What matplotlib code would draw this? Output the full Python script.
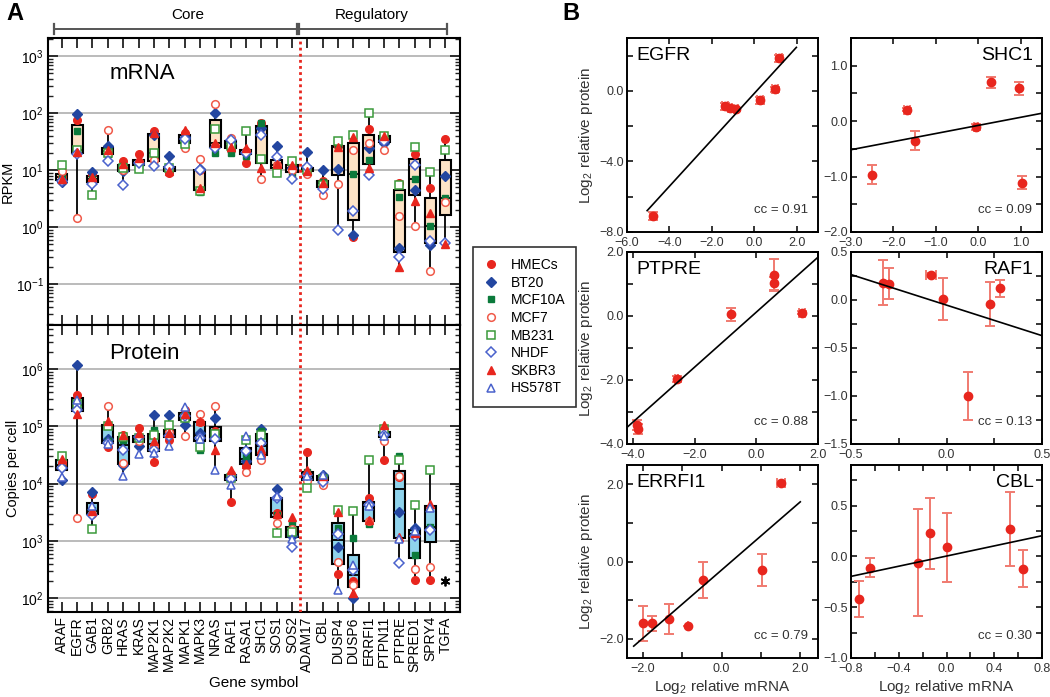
import numpy as np
import matplotlib
matplotlib.use("Agg")
import matplotlib.pyplot as plt
import matplotlib.ticker as mticker
import matplotlib.transforms as mtransforms
from matplotlib.lines import Line2D

plt.rcParams['font.family'] = ['Liberation Sans', 'DejaVu Sans']
plt.rcParams['mathtext.fontset'] = 'custom'
plt.rcParams['mathtext.rm'] = 'Liberation Sans'
plt.rcParams['mathtext.it'] = 'Liberation Sans:italic'
plt.rcParams['mathtext.bf'] = 'Liberation Sans:bold'

nan = np.nan

# ---------------- panel A data ----------------
genes = ['ARAF', 'EGFR', 'GAB1', 'GRB2', 'HRAS', 'KRAS', 'MAP2K1', 'MAP2K2', 'MAPK1',
         'MAPK3', 'NRAS', 'RAF1', 'RASA1', 'SHC1', 'SOS1', 'SOS2', 'ADAM17', 'CBL',
         'DUSP4', 'DUSP6', 'ERRFI1', 'PTPN11', 'PTPRE', 'SPRED1', 'SPRY4', 'TGFA']
n_core = 16

cell_lines = ['HMECs', 'BT20', 'MCF10A', 'MCF7', 'MB231', 'NHDF', 'SKBR3', 'HS578T']

# mRNA (RPKM), one list per cell line, gene order as above
mrna_hmec = [7.5, 75, 8.5, 22, 14.5, 19, 48, 9, 45, 10, 26, 23, 13.5, 66, 12.5, 12,
             10, 6.5, 26, 0.68, 53, 35, 6.0, 19, 4.8, 34.5]
mrna_bt20 = [6.2, 96, 9.2, 26, 9.5, 13, 42, 18, 38, 10.5, 101, 30, 20, 54, 27, 11,
             21, 10, 10.3, 0.74, 24, 30, 0.43, 4.5, 0.48, 7.85]
mrna_mcf10a = [7.8, 48, 7, 19, 12, 12, 14, 10, 30, 4.2, 20, 20, 18, 68, 10, 8.5,
               10.5, 6.2, 28, 8.5, 15, 38, 3.4, 7.1, 1.04, 3.3]
mrna_mcf7 = [9.5, 1.44, 6.5, 51, 10, 14, 15, 10.5, 24.5, 15.5, 144, 37, 22, 7.1, 12, 10,
             8.5, 3.7, 5.8, 23, 30, 22.5, 1.56, 1.05, 0.17, 2.7]
mrna_mb231 = [12.3, 22.5, 3.6, 20, 11, 10.4, 20, 11, 29, 4.3, 52, 27, 48, 15.4, 8.8, 14.5,
              10, 5.5, 33, 41, 100, 40, 5.5, 25.8, 9.3, 22.4]
mrna_nhdf = [6.5, 19, 5.7, 14.7, 5.5, 13.5, 12, 11.5, 35, 10, 24, 34, 20, 41, 17, 6.9,
             11.4, 4.7, 0.89, 1.9, 8.2, 33, 0.3, 12.2, 0.58, 0.52]
mrna_skbr3 = [7.0, 21, 7.5, 23, 13, 16, 44, 9.5, 50, 4.8, 30, 25, 24, 11, 13, 12.5,
              9.5, 6, 25, 38, 11, 40, 0.2, 2.9, 1.8, 0.5]
mrna_hs578t = [nan] * 26

# protein (copies per cell)
prot_hmec = [22e3, 360e3, 6.7e3, 44e3, 70e3, 93e3, 23.5e3, 57e3, 190e3, 118e3, 82e3, 4.7e3,
             20e3, 30e3, 3.1e3, 1.6e3, 36e3, 13e3, 263, 200, 5.6e3, 25.6e3, 13e3, 210, 210, nan]
prot_bt20 = [11.7e3, 1.2e6, 7.2e3, 60e3, 21e3, 45e3, 160e3, 160e3, 107e3, 76e3, 140e3, 14e3,
             25e3, 90e3, 8.2e3, 1.22e3, 12e3, 14e3, 790, 100, 4.5e3, 75e3, 3.2e3, 1.67e3, nan, nan]
prot_mcf10a = [20e3, 232e3, 3.5e3, 55e3, 58e3, 60e3, 85e3, 75e3, 155e3, 39e3, 70e3, 13e3,
               30e3, 82e3, 2.8e3, 2.1e3, 16e3, 12.5e3, 1.66e3, 1.11e3, 2.0e3, 72e3, 31e3, 570, 1.78e3, nan]
prot_mcf7 = [25e3, 2.5e3, 3.0e3, 224e3, 23e3, 55e3, 45e3, 80e3, 67e3, 166e3, 229e3, 15e3,
             15.7e3, 26e3, 2.1e3, 1.6e3, 11e3, 9.3e3, 435, 170, 2.2e3, 55e3, 13.5e3, 330, 346, nan]
prot_mb231 = [31e3, 250e3, 1.6e3, 100e3, 65e3, 62e3, 70e3, 105e3, 140e3, 44e3, 75e3, 12.5e3,
              59e3, 70e3, 1.37e3, 1.45e3, 8.4e3, 12e3, 3.5e3, 3.4e3, 26e3, 90e3, 26e3, 4.3e3, 17e3, nan]
prot_nhdf = [19e3, 190e3, 2.8e3, 52e3, 38e3, 64e3, 38e3, 67e3, 150e3, 63e3, 60e3, 12e3,
             37e3, 51e3, 5.6e3, 790, 14e3, 10.5e3, 1.3e3, 310, 4.3e3, 70e3, 420, 1.2e3, 1.55e3, nan]
prot_skbr3 = [27e3, 166e3, 3.3e3, 126e3, 72e3, 78e3, 55e3, 77e3, 165e3, 122e3, 39e3, 17e3,
              22.5e3, 40e3, 3.0e3, 2.6e3, 17e3, 13.5e3, 3.2e3, 125, 2.3e3, 107e3, 1.15e3, 1.4e3, 4.45e3, nan]
prot_hs578t = [13e3, 290e3, 4.0e3, 50e3, 13.5e3, 33e3, 35e3, 46e3, 214e3, 60e3, 17e3, 9.5e3,
               69e3, 32e3, 6.0e3, 1.1e3, 13.5e3, 14e3, 138, 380, 4.0e3, 68e3, 1.1e3, 1.5e3, 3.7e3, nan]
tgfa_undetected = 200  # marked with an asterisk

mrna = [mrna_hmec, mrna_bt20, mrna_mcf10a, mrna_mcf7, mrna_mb231, mrna_nhdf, mrna_skbr3, mrna_hs578t]
prot = [prot_hmec, prot_bt20, prot_mcf10a, prot_mcf7, prot_mb231, prot_nhdf, prot_skbr3, prot_hs578t]

# ---------------- panel B data ----------------
egfr_x = [1.16, 0.98, 0.27, -1.38, -1.16, -0.87, -4.76]
egfr_y = [1.85, 0.08, -0.53, -0.87, -0.95, -1.05, -7.09]
egfr_yerr = [0.2, 0.15, 0.2, 0.2, 0.15, 0.1, 0.25]
egfr_xerr = [0.15, 0.15, 0.15, 0.15, 0.1, 0.1, 0.15]

shc1_x = [-2.51, -1.68, -1.5, -0.05, 0.3, 0.96, 1.04]
shc1_y = [-0.97, 0.21, -0.35, -0.11, 0.70, 0.59, -1.11]
shc1_yerr = [0.17, 0.03, 0.17, 0.05, 0.1, 0.12, 0.12]
shc1_xerr = [0, 0.08, 0, 0.05, 0, 0, 0]

ptpre_x = [-3.88, -3.85, -2.59, -0.81, 0.56, 0.56, 1.48]
ptpre_y = [-3.41, -3.53, -1.97, 0.05, 1.28, 1.02, 0.1]
ptpre_yerr = [0.15, 0.15, 0.1, 0.2, 0.5, 0.2, 0.05]
ptpre_xerr = [0.05, 0.05, 0.05, 0, 0, 0, 0.1]

raf1_x = [-0.334, -0.30, -0.08, -0.02, 0.11, 0.23, 0.28]
raf1_y = [0.18, 0.17, 0.26, 0.01, -1.0, -0.04, 0.12]
raf1_yerr = [0.235, 0.16, 0.02, 0.22, 0.25, 0.23, 0.09]
raf1_xerr = [0, 0, 0.025, 0, 0, 0, 0]

errfi1_x = [-2.0, -1.77, -1.34, -0.85, -0.47, 1.02, 1.5]
errfi1_y = [-1.6, -1.6, -1.49, -1.66, -0.48, -0.22, 2.04]
errfi1_yerr = [0.45, 0.2, 0.39, 0.0, 0.46, 0.42, 0.05]
errfi1_xerr = [0, 0, 0, 0, 0, 0, 0.1]

cbl_x = [-0.73, -0.64, -0.24, -0.14, 0.0, 0.53, 0.64]
cbl_y = [-0.42, -0.11, -0.06, 0.23, 0.09, 0.27, -0.12]
cbl_yerr = [0.18, 0.095, 0.53, 0.35, 0.34, 0.36, 0.18]
cbl_xerr = [0, 0, 0, 0, 0, 0, 0]

# ---------------- style ----------------
RED = '#e8261e'
BLUE = '#2346a0'
GREEN = '#0b7a3b'
LBLUE = '#4a62cc'
OGREEN = '#3a9a3a'
marker_styles = [
    dict(marker='o', mfc=RED, mec=RED, ms=5.5),
    dict(marker='D', mfc=BLUE, mec=BLUE, ms=5),
    dict(marker='s', mfc=GREEN, mec=GREEN, ms=5),
    dict(marker='o', mfc='white', mec='#f05a4a', ms=5.5, mew=1.1),
    dict(marker='s', mfc='white', mec=OGREEN, ms=5.5, mew=1.1),
    dict(marker='D', mfc='white', mec=LBLUE, ms=5, mew=1.1),
    dict(marker='^', mfc=RED, mec=RED, ms=6),
    dict(marker='^', mfc='white', mec=LBLUE, ms=6, mew=1.1),
]

W, H = 1050, 697
fig = plt.figure(figsize=(W / 100, H / 100), dpi=100)


def fbox(l, t, r, b):
    return [l / W, 1 - b / H, (r - l) / W, (b - t) / H]


ax_m = fig.add_axes(fbox(48, 38, 460, 325))
ax_p = fig.add_axes(fbox(48, 325, 460, 612))
pos = np.arange(len(genes))


def draw_box_panel(ax, series, box_color, ylim):
    groups = []
    for i in range(len(genes)):
        groups.append([s[i] for s in series if not np.isnan(s[i])])
    idx = [i for i, g in enumerate(groups) if len(g) > 0]
    ax.boxplot([groups[i] for i in idx], positions=idx, widths=0.72, whis=(0, 100),
               patch_artist=True, showfliers=False, showcaps=False, manage_ticks=False,
               medianprops=dict(color='black', lw=1.3),
               boxprops=dict(facecolor=box_color, edgecolor='black', lw=1.5),
               whiskerprops=dict(color='black', lw=1.3), zorder=2)
    for s, st in zip(series, marker_styles):
        ax.plot(pos, s, ls='none', zorder=3, **st)
    ax.set_yscale('log')
    ax.set_ylim(*ylim)
    ax.set_xlim(-0.9, 25.95)
    ax.set_xticks(pos)
    ax.yaxis.grid(True, which='major', color='#a8a8a8', lw=1.1)
    ax.set_axisbelow(True)
    ax.axvline(n_core - 0.5, color=RED, ls=(0, (1, 1.2)), lw=2, zorder=4)
    ax.yaxis.set_major_locator(mticker.LogLocator(base=10, numticks=20))
    ax.yaxis.set_minor_locator(mticker.LogLocator(base=10, subs=np.arange(2, 10), numticks=20))
    ax.yaxis.set_minor_formatter(mticker.NullFormatter())
    ax.tick_params(axis='both', which='both', direction='in', top=True, right=True,
                   labelsize=10, width=1.3, color='#222222', pad=3)
    ax.tick_params(axis='y', which='major', length=7)
    ax.tick_params(axis='y', which='minor', length=3.5, width=1)
    ax.tick_params(axis='x', which='major', length=7)
    for sp in ax.spines.values():
        sp.set_linewidth(1.5)


draw_box_panel(ax_m, mrna, '#fde3c6', (10 ** -1.72, 10 ** 3.32))
draw_box_panel(ax_p, prot, '#8fd3ec', (10 ** 1.76, 10 ** 6.77))
ax_p.plot([pos[-1]], [tgfa_undetected], ls='none', marker=(6, 2, 0), color='black', ms=7, mew=1.3)

ax_m.set_xticklabels([])
ax_p.set_xticklabels(genes, rotation=90, fontsize=10)
ax_m.set_ylabel('RPKM', fontsize=10.5, labelpad=1)
ax_p.set_ylabel('Copies per cell', fontsize=10.5, labelpad=1)
ax_p.set_xlabel('Gene symbol', fontsize=11, labelpad=3)
ax_m.text(0.23, 0.875, 'mRNA', transform=ax_m.transAxes, ha='center', va='center', fontsize=16)
ax_p.text(0.235, 0.9, 'Protein', transform=ax_p.transAxes, ha='center', va='center', fontsize=16)

# Core / Regulatory brackets
tr = mtransforms.blended_transform_factory(ax_m.transData, fig.transFigure)
yb = 1 - 29 / H
cap = 5 / H
for x0, x1, label, xt in [(-0.52, 15.35, 'Core', 8.2), (15.47, 25.1, 'Regulatory', 20.2)]:
    ax_m.plot([x0, x1], [yb, yb], color='#555555', lw=1.4, transform=tr, clip_on=False)
    for xe in (x0, x1):
        ax_m.plot([xe, xe], [yb - cap, yb + cap], color='#555555', lw=1.6, transform=tr, clip_on=False)
    ax_m.text(xt, 1 - 15 / H, label, transform=tr, ha='center', va='center', fontsize=11)

# legend
handles = [Line2D([], [], ls='none', **st) for st in marker_styles]
leg = fig.legend(handles, cell_lines, loc='upper left', bbox_to_anchor=(473 / W, 1 - 247 / H),
                 frameon=True, fancybox=False, edgecolor='black', fontsize=10,
                 labelspacing=0.26, handlelength=1.0, handletextpad=0.9, borderpad=0.8,
                 borderaxespad=0)
leg.get_frame().set_linewidth(1.2)

fig.text(6 / W, 1 - 14 / H, 'A', fontsize=17, fontweight='bold', va='center')
fig.text(562 / W, 1 - 14 / H, 'B', fontsize=17, fontweight='bold', va='center')


# ---------------- panel B ----------------
def fmt_every(step):
    def f(v, p):
        k = v / step
        if abs(k - round(k)) > 1e-6:
            return ''
        s = f'{v:.1f}'
        if s in ('-0.0',):
            s = '0.0'
        return s.replace('-', '\u2212')
    return mticker.FuncFormatter(f)


def scatter_panel(rect, name, xs, ys, xerr, yerr, cc, xlim, ylim, xstep, xlab, ystep, ylab,
                  fit_range, title_right, xlabel=False, ylabel=False):
    ax = fig.add_axes(rect)
    ax.errorbar(xs, ys, yerr=yerr, xerr=xerr, fmt='o', color=RED, ms=6, ecolor='#f07a70',
                elinewidth=1.4, capsize=3.5, capthick=1.4, zorder=3)
    k, b = np.polyfit(xs, ys, 1)
    fx = np.array(fit_range)
    ax.plot(fx, k * fx + b, color='black', lw=1.2, zorder=4)
    ax.set_xlim(*xlim)
    ax.set_ylim(*ylim)
    ax.xaxis.set_major_locator(mticker.MultipleLocator(xstep))
    ax.yaxis.set_major_locator(mticker.MultipleLocator(ystep))
    ax.xaxis.set_major_formatter(fmt_every(xlab))
    ax.yaxis.set_major_formatter(fmt_every(ylab))
    ax.tick_params(direction='in', top=True, right=True, length=4, width=1.1,
                   labelsize=9, labelcolor='#333333', pad=2.5)
    ax.tick_params(axis='x', pad=3.5)
    for sp in ax.spines.values():
        sp.set_linewidth(1.4)
    if title_right:
        ax.text(0.955, 0.91, name, transform=ax.transAxes, ha='right', va='center', fontsize=14)
    else:
        ax.text(0.05, 0.91, name, transform=ax.transAxes, ha='left', va='center', fontsize=14)
    ax.text(0.95, 0.115, f'cc = {cc:.2f}', transform=ax.transAxes, ha='right', va='center',
            fontsize=9.5, color='#333333')
    if xlabel:
        ax.set_xlabel('Log$_2$ relative mRNA', fontsize=11, color='#333333', labelpad=2)
    if ylabel:
        ax.set_ylabel('Log$_2$ relative protein', fontsize=11, color='#333333', labelpad=3)
    return ax


c1 = (627, 818)
c2 = (851, 1042)
r1 = (38, 232)
r2 = (252, 444)
r3 = (465, 658)

scatter_panel(fbox(c1[0], r1[0], c1[1], r1[1]), 'EGFR', egfr_x, egfr_y, egfr_xerr, egfr_yerr, 0.91,
              (-6, 3), (-8, 3), 2, 2, 2, 4, (-5.05, 1.98), False, ylabel=True)
scatter_panel(fbox(c2[0], r1[0], c2[1], r1[1]), 'SHC1', shc1_x, shc1_y, shc1_xerr, shc1_yerr, 0.09,
              (-3, 1.5), (-2, 1.5), 1, 1, 0.5, 1, (-3, 1.5), True)
scatter_panel(fbox(c1[0], r2[0], c1[1], r2[1]), 'PTPRE', ptpre_x, ptpre_y, ptpre_xerr, ptpre_yerr, 0.88,
              (-4.2, 2.0), (-4, 2), 2, 2, 1, 2, (-4.2, 2.0), False, ylabel=True)
scatter_panel(fbox(c2[0], r2[0], c2[1], r2[1]), 'RAF1', raf1_x, raf1_y, raf1_xerr, raf1_yerr, 0.13,
              (-0.5, 0.5), (-1.5, 0.5), 0.25, 0.5, 0.25, 0.5, (-0.5, 0.5), True)
scatter_panel(fbox(c1[0], r3[0], c1[1], r3[1]), 'ERRFI1', errfi1_x, errfi1_y, errfi1_xerr, errfi1_yerr, 0.79,
              (-2.4, 2.45), (-2.5, 2.5), 1, 2, 1, 2, (-2.23, 2.0), False, xlabel=True, ylabel=True)
scatter_panel(fbox(c2[0], r3[0], c2[1], r3[1]), 'CBL', cbl_x, cbl_y, cbl_xerr, cbl_yerr, 0.30,
              (-0.8, 0.8), (-1.0, 0.9), 0.2, 0.4, 0.25, 0.5, (-0.8, 0.8), True, xlabel=True)

fig.savefig('out.png', dpi=100)
